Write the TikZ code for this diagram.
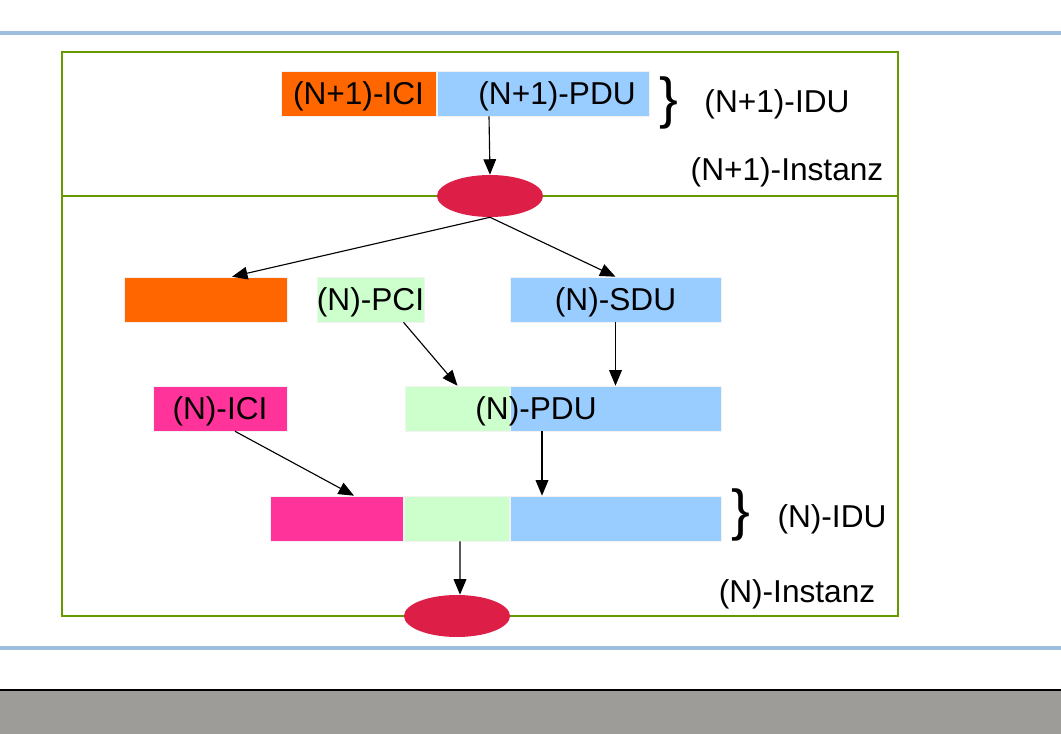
\documentclass[tikz,border=0pt]{standalone}
\usepackage{fontspec}
\setmainfont{Liberation Sans}
\usepackage{tikz}
\usetikzlibrary{
  arrows.meta,
  positioning,
  calc,
  shapes.geometric
}
\definecolor{pdublue}{RGB}{153,204,255}
\definecolor{iciorange}{RGB}{255,102,0}
\definecolor{pcigreen}{RGB}{204,255,204}
\definecolor{icipink}{RGB}{255,51,153}
\definecolor{entred}{RGB}{221,31,72}
\definecolor{framegreen}{RGB}{102,153,0}
\definecolor{ruleblue}{RGB}{157,190,221}
\definecolor{footgray}{RGB}{157,156,152}

\begin{document}
\begin{tikzpicture}[x=0.025cm,y=-0.025cm,
  blk/.style ={inner sep=0pt,minimum height=1.125cm,draw=black!5,
               text depth=0pt,font=\fontsize{22.5}{26}\selectfont},
  ent/.style ={ellipse,fill=entred,minimum width=2.65cm,
               minimum height=1.05cm,inner sep=0pt},
  lbl/.style ={font=\fontsize{22.5}{26}\selectfont,inner sep=0pt},
  brc/.style ={font=\fontsize{40}{42}\selectfont,inner sep=0pt},
  arr/.style ={-{Triangle[length=11pt,width=9pt]},line width=0.8pt},
]
\useasboundingbox (0,0) rectangle (1061,734);
% page rulers and footer
\draw[ruleblue,line width=2.8pt] (0,33) -- (1061,33);
\draw[ruleblue,line width=2.8pt] (0,648) -- (1061,648);
\fill[footgray] (0,690) rectangle (1061,734);
\draw[line width=0.8pt] (0,690) -- (1061,690);

% layer frame
\draw[framegreen,line width=1pt] (62,52) rectangle (898,616);
\draw[framegreen,line width=0.8pt] (62,196) -- (898,196);

% (N+1) layer
\node[blk,fill=iciorange,minimum width=3.875cm] (ici1) at (358.5,93.5) {(N+1)-ICI};
\node[blk,fill=pdublue,minimum width=5.3cm]     (pdu1) at (543,93.5)   {\hspace{20pt}(N+1)-PDU};
\node[brc] (brace1) at (669,103) {\}};
\node[lbl] (idu1)  at (777,104) {(N+1)-IDU};
\node[lbl] (inst1) at (787,172) {(N+1)-Instanz};
\node[ent] (ent1)  at (490,196) {};

% (N) layer
\node[blk,fill=iciorange,minimum width=4.075cm] (ici0) at (205.5,299.5) {};
\node[blk,fill=pcigreen,minimum width=2.675cm]  (pci)  at (370.5,299.5) {(N)-PCI};
\node[blk,fill=pdublue,minimum width=5.275cm]   (sdu)  at (615.5,299.5) {(N)-SDU};

\node[blk,fill=icipink,minimum width=3.35cm]    (ici)  at (220,408.5)   {(N)-ICI};
\node[blk,fill=pcigreen,minimum width=2.625cm]  (pcb)  at (457.5,408.5) {};
\node[blk,fill=pdublue,minimum width=5.275cm]   (pdb)  at (615.5,408.5) {};
\node[lbl,text depth=0pt] (pdutxt) at (536,408.5) {(N)-PDU};

\node[blk,fill=icipink,minimum width=3.325cm]   (idup) at (336.5,518.5) {};
\node[blk,fill=pcigreen,minimum width=2.625cm]  (idug) at (456.5,518.5) {};
\node[blk,fill=pdublue,minimum width=5.275cm]   (idub) at (615.5,518.5) {};
\node[brc] (brace2) at (741,515) {\}};
\node[lbl] (idu0)  at (832,519) {(N)-IDU};
\node[lbl] (inst0) at (797,594) {(N)-Instanz};
\node[ent] (ent0)  at (457,616) {};

\draw[arr] ($(pdu1.south)+(-54,0)$) -- (ent1.north);
\draw[arr] (ent1.south) -- ($(ici0.north)+(26.5,0)$);
\draw[arr] (ent1.south) -- (sdu.north);
\draw[arr] ($(pci.south)+(33,0)$) -- (pcb.north);
\draw[arr] (sdu.south) -- (pdb.north);
\draw[arr] ($(ici.south)+(15,0)$) -- ($(idup.north)+(17.5,0)$);
\draw[arr] ($(pdb.south)+(-73.5,0)$) -- ($(idub.north)+(-73.5,0)$);
\draw[arr] ($(idug.south)+(3.5,0)$) -- ($(ent0.north)+(3,0)$);
\end{tikzpicture}
\end{document}
